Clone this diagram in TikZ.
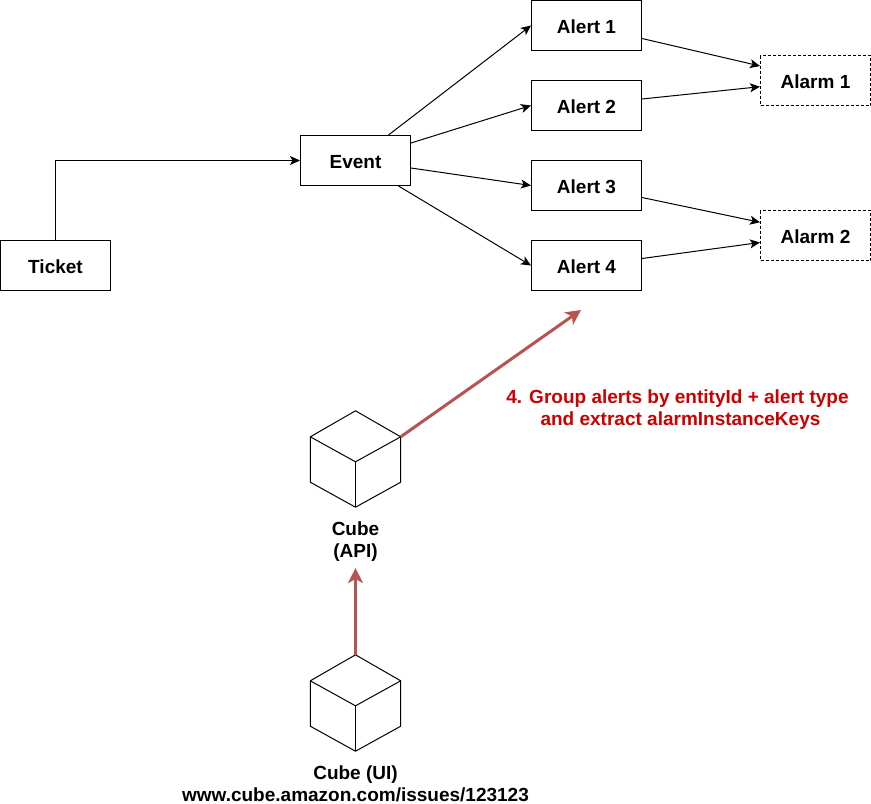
\documentclass[tikz,border=0pt]{standalone}
\usepackage{fontspec}
\setmainfont{Liberation Sans}
\usetikzlibrary{arrows.meta,positioning}
\definecolor{redline}{HTML}{B85450}
\definecolor{redtext}{HTML}{CC0000}
\tikzset{
  lbl/.style={font=\fontsize{19}{22}\selectfont\bfseries,text=black,align=center,inner sep=0pt},
  boxn/.style={lbl,draw=black,line width=1pt,fill=white,minimum width=110pt,minimum height=50pt,text height=15.6pt,text depth=0pt},
  alarmn/.style={boxn,dash pattern=on 3pt off 2pt},
  cubeb/.style={minimum width=90pt,minimum height=96pt,inner sep=0pt},
  conn/.style={draw=black,line width=1pt,-{Stealth[length=10pt,width=9pt,inset=2.5pt]}},
  redconn/.style={draw=redline,line width=3pt,-{Stealth[length=15pt,width=15pt,inset=4pt]}},
  cubeline/.style={draw=black,line width=1pt,line join=round},
}
\newcommand{\cubeshape}[1]{%
  \draw[cubeline] (#1.north) -- ([yshift=-26pt]#1.north east) -- ([yshift=25pt]#1.south east) -- (#1.south)
     -- ([yshift=25pt]#1.south west) -- ([yshift=-26pt]#1.north west) -- cycle;
  \draw[cubeline] ([yshift=-26pt]#1.north west) -- ([yshift=-51pt]#1.north) -- ([yshift=-26pt]#1.north east);
  \draw[cubeline] ([yshift=-51pt]#1.north) -- (#1.south);
}
\begin{document}
\begin{tikzpicture}[x=1pt,y=-1pt]
\useasboundingbox (0,0) rectangle (871,804);
\node[boxn] (ticket) at (55.5,265.5) {Ticket};
\node[boxn] (event) at (355.5,160.5) {Event};
\node[boxn] (a1) at (586.5,25.5) {Alert 1};
\node[boxn] (a2) at (586.5,105.5) {Alert 2};
\node[boxn] (a3) at (586.5,185.5) {Alert 3};
\node[boxn] (a4) at (586.5,265.5) {Alert 4};
\node[alarmn] (m1) at (815.5,80.5) {Alarm 1};
\node[alarmn] (m2) at (815.5,235.5) {Alarm 2};
\node[cubeb] (api) at (355.5,459) {};
\node[cubeb] (ui) at (355.5,703) {};
\node[lbl] (apil) at (355.5,541.5) {Cube\\(API)};
\node[lbl] (uil) at (355.5,784) {Cube (UI)\\www.cube.amazon.com/issues/123123};
\node[lbl,text=redtext] (note) at (677.5,410) {4. Group alerts by entityId + alert type\\\hspace*{6pt}and extract alarmInstanceKeys};
\coordinate (free) at (581,310);
\cubeshape{api}
\cubeshape{ui}
\draw[conn] (ticket.north) |- (event.west);
\draw[conn] ([xshift=33pt]event.north) -- (a1.west);
\draw[conn] ([yshift=17.5pt]event.east) -- (a2.west);
\draw[conn] ([yshift=-7.5pt]event.east) -- (a3.west);
\draw[conn] ([xshift=43pt]event.south) -- (a4.west);
\draw[conn] ([yshift=-13pt]a1.east) -- ([yshift=14.5pt]m1.west);
\draw[conn] ([yshift=6.5pt]a2.east) -- ([yshift=-6.2pt]m1.west);
\draw[conn] ([yshift=-12pt]a3.east) -- ([yshift=13.2pt]m2.west);
\draw[conn] ([yshift=7pt]a4.east) -- ([yshift=-7pt]m2.west);
\draw[redconn] ([yshift=-26pt]api.north east) -- (free);
\draw[redconn] (ui.north) -- ([yshift=-6.5pt]apil.south);
\end{tikzpicture}
\end{document}
